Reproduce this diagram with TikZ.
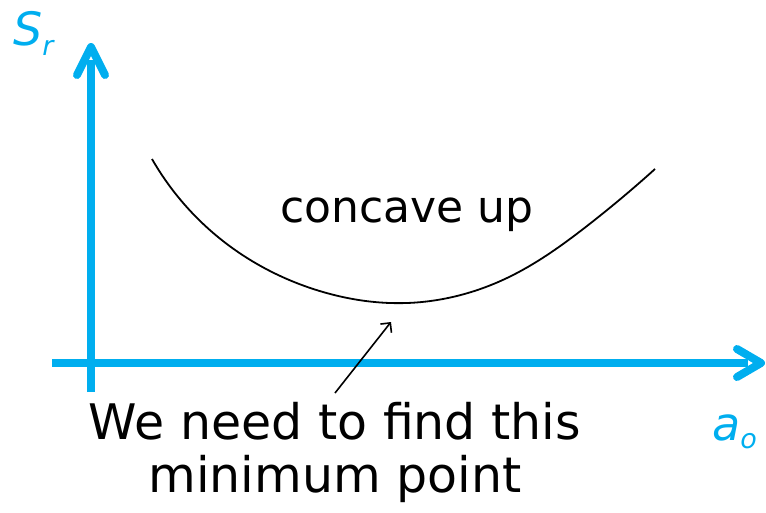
\documentclass[tikz,border=0pt]{standalone}
\usepackage{fontspec}
\setmainfont{DejaVu Sans}
\usetikzlibrary{arrows.meta,hobby}
\definecolor{axisblue}{RGB}{0,174,239}
\tikzset{
  axisline/.style={line width=8pt, draw=axisblue},
  axishead/.style={line width=8pt, draw=axisblue, line cap=round, line join=round},
  curveline/.style={line width=1.8pt, draw=black},
  pointer/.style={line width=1.6pt, draw=black, -{Straight Barb[length=7pt,width=14pt,line width=1.6pt]}},
  axislabel/.style={text=axisblue, font=\itshape\fontsize{46}{46}\selectfont, inner sep=0pt},
  bodytext/.style={text=black, font=\fontsize{44}{53}\selectfont, inner sep=0pt, align=center}
}
\begin{document}
\begin{tikzpicture}[x=1pt,y=-1pt]
\useasboundingbox (0,0) rectangle (766,512);
% axes
\coordinate (yb) at (91,392);
\coordinate (yt) at (91,47);
\coordinate (xl) at (52,363);
\coordinate (xr) at (761,363);
\draw[axisline] (yb) -- (91,60);
\draw[axishead] (77,75) -- (yt) -- (105,75);
\draw[axisline] (xl) -- (748,363);
\draw[axishead] (737,349) -- (xr) -- (737,377);
% labels
\node[axislabel, anchor=base west] (sr) at (13,45) {S\raisebox{-10pt}{\fontsize{27}{27}\selectfont r}};
\node[axislabel, anchor=base west] (ao) at (712,440) {a\raisebox{-8pt}{\fontsize{27}{27}\selectfont o}};
% curve
\draw[curveline, use Hobby shortcut] (152,159) .. (218,237) .. (323,292) .. (407,303) .. (507,278) .. (587,226) .. (655,169);
% texts
\node[bodytext, anchor=base] (cu) at (407,222) {concave up};
\node[bodytext, anchor=north, font=\fontsize{49}{53}\selectfont] (note) at (335,402) {We need to find this\\minimum point};
\coordinate (minpt) at (391,322);
\coordinate (from) at (335,393);
\draw[pointer] (from) -- (minpt);
\end{tikzpicture}
\end{document}
